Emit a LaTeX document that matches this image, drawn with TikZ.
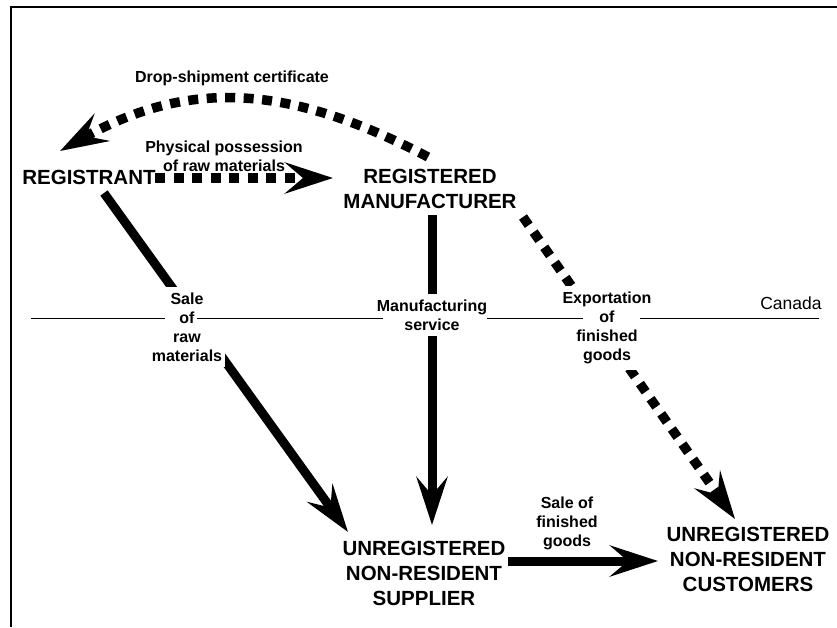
\documentclass[tikz,border=0pt]{standalone}
\usepackage{fontspec}
\setmainfont{Liberation Sans}
\usetikzlibrary{arrows.meta}
\tikzset{
  big/.style={font=\bfseries\fontsize{20.5}{25}\selectfont, align=center, inner sep=0pt},
  lab/.style={font=\bfseries\fontsize{16}{19}\selectfont, align=center, inner sep=0pt},
  cutlab/.style={lab, fill=white, inner xsep=3pt, inner ysep=6pt},
  tip/.style={-{Stealth[length=48pt, width=31pt, inset=18pt]}},
  solidarrow/.style={tip, line width=9pt},
  dotarrow/.style={tip, line width=9.5pt, dash pattern=on 10pt off 8.5pt},
  border/.style={line width=2pt},
  thin/.style={line width=0.8pt}
}
\begin{document}
\begin{tikzpicture}[x=1pt,y=-1pt]
\useasboundingbox (0,0) rectangle (837,627);
% frame
\coordinate (fa) at (10.5,627);
\coordinate (fb) at (10.5,7);
\coordinate (fc) at (837,7);
\draw[border] (fa) -- (fb) -- (fc);

% main nodes
\node[big] (reg) at (89,177) {REGISTRANT};
\node[big] (man) at (430,188.5) {REGISTERED\\MANUFACTURER};
\node[big] (sup) at (424,573) {UNREGISTERED\\NON-RESIDENT\\SUPPLIER};
\node[big] (cus) at (748,559) {UNREGISTERED\\NON-RESIDENT\\CUSTOMERS};

% connector end points
\coordinate (regE) at (155,178);
\coordinate (manW) at (333,178);
\coordinate (regS) at (104,193);
\coordinate (supNW) at (348,532);
\coordinate (manS) at (432,215);
\coordinate (supN) at (432,525);
\coordinate (manSE) at (523,217);
\coordinate (cusN) at (735,519);
\coordinate (supE) at (508,561);
\coordinate (cusW) at (658,561);
\coordinate (manN) at (428,157);
\coordinate (regN) at (60,151);

% connectors
\draw[dotarrow] (regE) -- (manW);
\draw[dotarrow] (manN) .. controls (290,85) and (190,78) .. (regN);
\draw[solidarrow] (regS) -- (supNW);
\draw[solidarrow] (manS) -- (supN);
\draw[dotarrow] (manSE) -- (cusN);
\draw[solidarrow] (supE) -- (cusW);

% labels
\node[lab] (ldrop) at (232,78) {Drop-shipment certificate};
\node[lab] (lphys) at (224,156.5) {Physical possession\\of raw materials};
\node[cutlab] (lsale) at (187,327) {Sale\\of\\raw\\materials};
\node[cutlab] (lmfg) at (432,315) {Manufacturing\\service};
\node[cutlab] (lexp) at (607,328) {Exportation\\of\\finished\\goods};
\node[lab] (lsfg) at (567,523) {Sale of\\finished\\goods};
\node[font=\fontsize{17.5}{20}\selectfont, inner sep=0pt] (canada) at (791,303) {Canada};

% Canada border line
\coordinate (c1) at (31,318);
\coordinate (c2) at (165,318);
\coordinate (c3) at (197,318);
\coordinate (c4) at (383,318);
\coordinate (c5) at (487,318);
\coordinate (c6) at (583,318);
\coordinate (c7) at (640,318);
\coordinate (c8) at (819,318);
\draw[thin] (c1) -- (c2);
\draw[thin] (c3) -- (c4);
\draw[thin] (c5) -- (c6);
\draw[thin] (c7) -- (c8);
\end{tikzpicture}
\end{document}
